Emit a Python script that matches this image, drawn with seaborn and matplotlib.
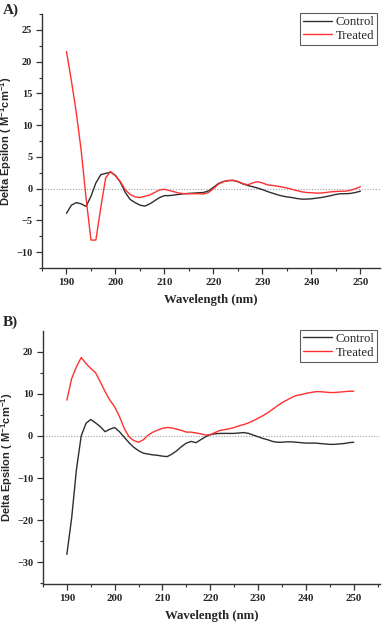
"""CD spectra of control vs treated samples (panels A and B)."""
import numpy as np
import pandas as pd
import matplotlib
matplotlib.use('Agg')
import matplotlib.pyplot as plt
from matplotlib.ticker import MultipleLocator
import seaborn as sns

# wavelength grid (nm)
wavelength = list(range(190, 251))

# panel A
a_control = [-3.9, -2.6, -2.2, -2.4, -2.8, -1.2, 0.9, 2.2, 2.4, 2.6,
             2.1, 1.0, -0.6, -1.7, -2.2, -2.6, -2.75, -2.4, -1.9, -1.4,
             -1.1, -1.1, -1.0, -0.9, -0.8, -0.75, -0.7, -0.65, -0.6, -0.35,
             0.2, 0.8, 1.1, 1.25, 1.3, 1.1, 0.75, 0.5, 0.3, 0.1,
             -0.15, -0.45, -0.7, -0.95, -1.15, -1.3, -1.4, -1.55, -1.65, -1.65,
             -1.6, -1.5, -1.4, -1.25, -1.1, -0.9, -0.8, -0.8, -0.75, -0.6,
             -0.4]
a_treated = [21.6, 17.0, 12.0, 6.0, -1.5, -8.1, -8.1, -3.0, 1.7, 2.7,
             2.0, 1.1, -0.2, -0.9, -1.3, -1.4, -1.2, -1.0, -0.6, -0.2,
             -0.1, -0.3, -0.5, -0.7, -0.8, -0.8, -0.8, -0.8, -0.85, -0.6,
             0.0, 0.7, 1.1, 1.3, 1.3, 1.1, 0.8, 0.6, 0.9, 1.1,
             0.9, 0.6, 0.5, 0.4, 0.25, 0.1, -0.1, -0.3, -0.5, -0.6,
             -0.65, -0.7, -0.7, -0.6, -0.5, -0.45, -0.4, -0.4, -0.25, 0.0,
             0.3]

# panel B
b_control = [-28.1, -19.5, -8.0, 0.0, 3.0, 3.9, 3.1, 2.2, 1.0, 1.6,
             2.0, 1.0, -0.3, -1.6, -2.7, -3.5, -4.1, -4.3, -4.5, -4.6,
             -4.8, -4.9, -4.3, -3.5, -2.5, -1.7, -1.3, -1.6, -0.9, -0.2,
             0.3, 0.5, 0.6, 0.6, 0.6, 0.6, 0.7, 0.8, 0.6, 0.2,
             -0.2, -0.6, -0.9, -1.3, -1.5, -1.5, -1.4, -1.4, -1.5, -1.6,
             -1.7, -1.7, -1.7, -1.8, -1.9, -2.0, -2.0, -1.9, -1.8, -1.6,
             -1.5]
b_treated = [8.5, 13.6, 16.4, 18.6, 17.2, 16.0, 15.0, 12.8, 10.5, 8.5,
             6.9, 4.6, 1.8, -0.2, -1.1, -1.5, -0.9, 0.2, 0.9, 1.4,
             1.8, 2.0, 1.9, 1.6, 1.3, 0.9, 0.9, 0.7, 0.5, 0.2,
             0.3, 0.8, 1.3, 1.5, 1.7, 2.0, 2.4, 2.7, 3.1, 3.6,
             4.2, 4.8, 5.5, 6.3, 7.1, 7.9, 8.5, 9.1, 9.6, 9.8,
             10.1, 10.3, 10.5, 10.5, 10.4, 10.3, 10.3, 10.4, 10.5, 10.6,
             10.6]

series = ['Control', 'Treated']
colors = {'Control': '#2e2e2e', 'Treated': '#ff3030'}


def to_long(control, treated):
    return pd.DataFrame({
        'wavelength': wavelength * 2,
        'value': control + treated,
        'sample': ['Control'] * len(control) + ['Treated'] * len(treated),
    })


def style_axis(ax, xlim, ylim, ymajor, yminor):
    ax.set_xlim(*xlim)
    ax.set_ylim(*ylim)
    ax.xaxis.set_major_locator(MultipleLocator(10))
    ax.xaxis.set_minor_locator(MultipleLocator(5))
    ax.yaxis.set_major_locator(MultipleLocator(ymajor))
    ax.yaxis.set_minor_locator(MultipleLocator(yminor))
    ax.axhline(0, color='#a0a0a0', lw=0.8, ls=(0, (1, 1.5)), zorder=0)
    for side in ['top', 'right']:
        ax.spines[side].set_visible(False)
    for side in ['left', 'bottom']:
        ax.spines[side].set_color('#333333')
        ax.spines[side].set_linewidth(1.0)
    ax.tick_params(which='major', length=4, width=0.9, color='#333333',
                   labelsize=7.8, pad=3)
    ax.tick_params(axis='y', which='major', pad=3, labelsize=7.5)
    ax.tick_params(which='minor', length=2, width=0.8, color='#333333')
    for lab in ax.get_xticklabels() + ax.get_yticklabels():
        lab.set_fontfamily('Liberation Serif')
        lab.set_fontweight('bold')
    ax.set_xlabel('Wavelength (nm)', family='Liberation Serif',
                  weight='bold', fontsize=9.2, labelpad=5)
    ax.set_ylabel('Delta Epsilon ( M$^{-1}$cm$^{-1}$)',
                  family='Liberation Sans', weight='bold', fontsize=8)
    ax.yaxis.set_label_coords(-0.082, 0.5)
    leg = ax.legend(loc='upper right', bbox_to_anchor=(1.0, 1.015),
                    frameon=True, fancybox=False, handlelength=2.2,
                    handletextpad=0.3, borderpad=0.25, labelspacing=0.15,
                    borderaxespad=0.2,
                    prop={'family': 'Liberation Serif', 'size': 9.2})
    leg.get_frame().set_edgecolor('#333333')
    leg.get_frame().set_linewidth(0.8)


def main():
    sns.set_theme(style='ticks')
    plt.rcParams['mathtext.fontset'] = 'custom'
    plt.rcParams['mathtext.rm'] = 'Liberation Sans:bold'
    plt.rcParams['mathtext.it'] = 'Liberation Sans:bold'
    plt.rcParams['mathtext.bf'] = 'Liberation Sans:bold'
    plt.rcParams['axes.unicode_minus'] = True

    fig = plt.figure(figsize=(3.87, 6.24), dpi=100)
    ax_a = fig.add_axes([0.1085, 0.5705, 0.8735, 0.407])
    ax_b = fig.add_axes([0.111, 0.0636, 0.871, 0.406])

    sns.lineplot(data=to_long(a_control, a_treated), x='wavelength',
                 y='value', hue='sample', hue_order=series, palette=colors,
                 lw=1.0, ax=ax_a)
    sns.lineplot(data=to_long(b_control, b_treated), x='wavelength',
                 y='value', hue='sample', hue_order=series, palette=colors,
                 lw=1.0, ax=ax_b)

    style_axis(ax_a, (185, 254), (-12.5, 27.5), 5, 2.5)
    style_axis(ax_b, (185, 255.5), (-35.2, 24.9), 10, 5)

    fig.text(0.008, 0.994, 'A)', family='Liberation Serif', weight='bold',
             fontsize=11, ha='left', va='top')
    fig.text(0.008, 0.495, 'B)', family='Liberation Serif', weight='bold',
             fontsize=11, ha='left', va='top')

    fig.savefig('out.png', dpi=100)


if __name__ == '__main__':
    main()
